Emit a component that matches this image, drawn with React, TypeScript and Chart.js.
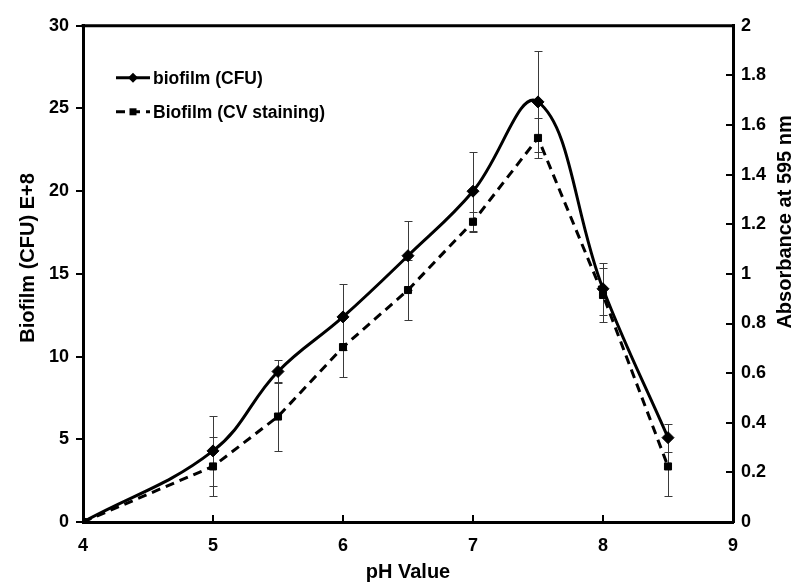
import React, { useEffect, useRef } from 'react';
import { Chart, registerables } from 'chart.js';

Chart.register(...registerables);

// ---- data ----
const phValues = [4, 5, 5.5, 6, 6.5, 7, 7.5, 8, 8.5];
const cfuValues = [0, 4.3, 9.1, 12.4, 16.1, 20.0, 25.4, 14.1, 5.1];
const cfuErrors = [0, 2.1, 0.7, 2.0, 2.1, 2.4, 3.05, 1.57, 0.85];
const cvValues = [0, 0.224, 0.425, 0.705, 0.935, 1.21, 1.548, 0.915, 0.224];
const cvErrors = [0, 0.12, 0.14, 0.12, 0.12, 0.04, 0.08, 0.108, 0.12];

const xTickValues = [4, 5, 6, 7, 8, 9];
const leftTickValues = [0, 5, 10, 15, 20, 25, 30];
const rightTickValues = [0, 0.2, 0.4, 0.6, 0.8, 1, 1.2, 1.4, 1.6, 1.8, 2];

const cfuLabel = 'biofilm (CFU)';
const cvLabel = 'Biofilm (CV staining)';
const xTitle = 'pH Value';
const leftTitle = 'Biofilm (CFU) E+8';
const rightTitle = 'Absorbance at 595 nm';

const FONT = '"Liberation Sans", Arial, sans-serif';

const errorBarPlugin = {
  id: 'errorBars',
  beforeDatasetsDraw(chart: any) {
    const ctx = chart.ctx;
    const sets = [
      { errs: cfuErrors, vals: cfuValues, axis: 'y' },
      { errs: cvErrors, vals: cvValues, axis: 'y1' },
    ];
    ctx.save();
    ctx.strokeStyle = '#3a3a3a';
    ctx.lineWidth = 1;
    const xs = chart.scales.x;
    sets.forEach((s) => {
      const ys = chart.scales[s.axis];
      phValues.forEach((ph, i) => {
        const e = s.errs[i];
        if (!e) return;
        const px = Math.round(xs.getPixelForValue(ph)) + 0.5;
        const top = Math.round(ys.getPixelForValue(s.vals[i] + e)) + 0.5;
        const bot = Math.round(ys.getPixelForValue(s.vals[i] - e)) + 0.5;
        ctx.beginPath();
        ctx.moveTo(px, top);
        ctx.lineTo(px, bot);
        ctx.moveTo(px - 4, top);
        ctx.lineTo(px + 4, top);
        ctx.moveTo(px - 4, bot);
        ctx.lineTo(px + 4, bot);
        ctx.stroke();
      });
    });
    ctx.restore();
  },
};

function marker(ctx: CanvasRenderingContext2D, style: string, r: number, x: number, y: number) {
  ctx.beginPath();
  if (style === 'rectRot') {
    ctx.moveTo(x, y - r);
    ctx.lineTo(x + r, y);
    ctx.lineTo(x, y + r);
    ctx.lineTo(x - r, y);
    ctx.closePath();
  } else {
    ctx.rect(x - r, y - r, 2 * r, 2 * r);
  }
  ctx.fill();
}

const framePlugin = {
  id: 'frameAndText',
  afterDraw(chart: any) {
    const ctx = chart.ctx;
    const a = chart.chartArea;
    ctx.save();
    // top border
    ctx.strokeStyle = '#000';
    ctx.lineWidth = 3;
    ctx.beginPath();
    ctx.moveTo(a.left - 1.5, a.top);
    ctx.lineTo(a.right + 1.5, a.top);
    ctx.stroke();

    // y titles (both read bottom-to-top)
    ctx.fillStyle = '#000';
    ctx.font = 'bold 20px ' + FONT;
    ctx.textAlign = 'center';
    ctx.textBaseline = 'middle';
    const midY = (a.top + a.bottom) / 2;
    ctx.save();
    ctx.translate(28, midY - 16);
    ctx.rotate(-Math.PI / 2);
    ctx.fillText(leftTitle, 0, 0);
    ctx.restore();
    ctx.save();
    ctx.translate(chart.width - 24, midY - 52);
    ctx.rotate(-Math.PI / 2);
    ctx.fillText(rightTitle, 0, 0);
    ctx.restore();

    // legend
    const ds = chart.data.datasets;
    const entries = [
      { d: ds[0], y: a.top + 52, style: 'rectRot', r: 5 },
      { d: ds[1], y: a.top + 86, style: 'rect', r: 3.5 },
    ];
    const x0 = a.left + 33;
    const x1 = a.left + 67;
    entries.forEach((en) => {
      ctx.save();
      ctx.strokeStyle = '#000';
      ctx.lineWidth = 3;
      ctx.setLineDash(en.d.borderDash || []);
      ctx.beginPath();
      ctx.moveTo(x0, en.y);
      ctx.lineTo(x1, en.y);
      ctx.stroke();
      ctx.setLineDash([]);
      ctx.fillStyle = '#000';
      marker(ctx, en.style, en.r, (x0 + x1) / 2, en.y);
      ctx.font = 'bold 17.5px ' + FONT;
      ctx.textAlign = 'left';
      ctx.textBaseline = 'middle';
      ctx.fillText(en.d.label, x1 + 3, en.y + 1);
      ctx.restore();
    });
    ctx.restore();
  },
};

export default function App() {
  const ref = useRef<HTMLCanvasElement | null>(null);
  useEffect(() => {
    document.body.style.margin = '0';
    const canvas = ref.current!;
    const tickFont = { family: FONT, size: 18, weight: 'bold' as const };
    const chart = new Chart(canvas, {
      type: 'line',
      data: {
        datasets: [
          {
            label: cfuLabel,
            data: phValues.map((x, i) => ({ x, y: cfuValues[i] })),
            yAxisID: 'y',
            borderColor: '#000',
            backgroundColor: '#000',
            borderWidth: 3,
            tension: 0.4,
            pointStyle: 'rectRot',
            pointRadius: 6,
            pointBorderWidth: 1,
            fill: false,
          },
          {
            label: cvLabel,
            data: phValues.map((x, i) => ({ x, y: cvValues[i] })),
            yAxisID: 'y1',
            borderColor: '#000',
            backgroundColor: '#000',
            borderWidth: 3,
            borderDash: [9, 6],
            tension: 0,
            pointStyle: 'rect',
            pointRadius: 5,
            pointBorderWidth: 1,
            fill: false,
          },
        ],
      },
      options: {
        animation: false,
        responsive: false,
        layout: { padding: { top: 22, left: 0, right: 0, bottom: 0 } },
        plugins: { legend: { display: false }, tooltip: { enabled: false } },
        scales: {
          x: {
            type: 'linear',
            position: 'bottom',
            min: 4,
            max: 9,
            afterBuildTicks: (s: any) => { s.ticks = xTickValues.map((v) => ({ value: v })); },
            afterFit: (s: any) => { s.height = 63; },
            ticks: { color: '#000', font: tickFont, padding: 20 },
            grid: { drawOnChartArea: false, tickLength: -7, color: '#000', lineWidth: 2 },
            border: { display: true, color: '#000', width: 3 },
            title: { display: true, text: xTitle, color: '#000', font: { family: FONT, size: 20, weight: 'bold' }, padding: { top: 0, bottom: 1 } },
          },
          y: {
            type: 'linear',
            position: 'left',
            min: 0,
            max: 30,
            afterBuildTicks: (s: any) => { s.ticks = leftTickValues.map((v) => ({ value: v })); },
            afterFit: (s: any) => { s.width = 83; },
            ticks: { color: '#000', font: tickFont, padding: 7 },
            grid: { drawOnChartArea: false, tickLength: 7, color: '#000', lineWidth: 2 },
            border: { display: true, color: '#000', width: 3 },
          },
          y1: {
            type: 'linear',
            position: 'right',
            min: 0,
            max: 2,
            afterBuildTicks: (s: any) => { s.ticks = rightTickValues.map((v) => ({ value: v })); },
            afterFit: (s: any) => { s.width = 76; },
            ticks: {
              color: '#000',
              font: tickFont,
              padding: 15,
              callback: (v: any) => String(Number(Number(v).toFixed(1))),
            },
            grid: { drawOnChartArea: false, tickLength: -7, color: '#000', lineWidth: 2 },
            border: { display: true, color: '#000', width: 3 },
          },
        },
      },
      plugins: [errorBarPlugin, framePlugin],
    });
    return () => chart.destroy();
  }, []);
  return (
    <div style={{ width: 809, height: 585, background: '#fff' }}>
      <canvas ref={ref} width={809} height={585} />
    </div>
  );
}
